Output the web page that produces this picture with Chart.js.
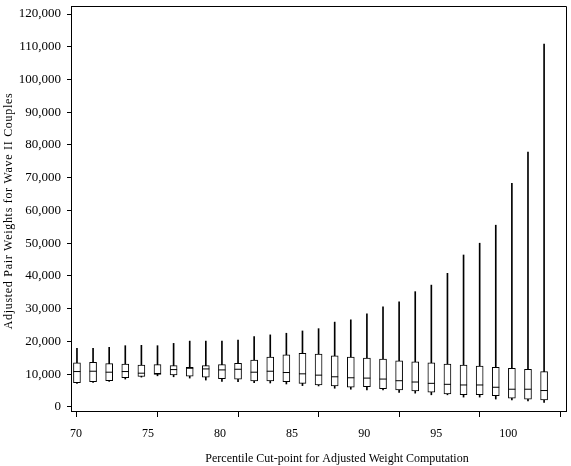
<!DOCTYPE html>
<html lang="en">
  <head>
    <meta charset="UTF-8" />
    <title>Adjusted Pair Weights for Wave II Couples</title>
    <script src="https://cdn.jsdelivr.net/npm/chart.js"></script>
    <style>
      body {
        margin: 0;
        background: #fff;
      }
    </style>
  </head>
  <body>
    <canvas id="boxChart" width="571" height="466"></canvas>

    <script>
      // percentile cut-points, one box each
      const percentiles = [
        70, 71, 72, 73, 74, 75, 76, 77, 78, 79, 80, 81, 82, 83, 84, 85, 86, 87,
        88, 89, 90, 91, 92, 93, 94, 95, 96, 97, 98, 99,
      ];
      const whiskerLow = [
        7200, 7500, 7800, 8500, 9100, 9500, 9200, 8800, 8200, 7800, 7700, 7400,
        7300, 7000, 6500, 6400, 5700, 5400, 5200, 5200, 4400, 4200, 3700, 3700,
        3000, 3000, 2400, 2100, 1800, 1400,
      ];
      const q1 = [
        7400, 7700, 8000, 8900, 9300, 9900, 9800, 9400, 9100, 8600, 8500, 7900,
        7900, 7700, 7200, 6700, 6400, 6000, 6200, 5600, 5200, 4900, 4500, 4000,
        3700, 3700, 3400, 2700, 2400, 2100,
      ];
      const median = [
        10800, 10900, 10600, 10800, 10300, 10200, 11400, 11800, 11600, 11300,
        11500, 10600, 10900, 10500, 10100, 9700, 9200, 8900, 8800, 8500, 8000,
        7600, 7200, 6900, 6700, 6700, 6000, 5400, 5400, 5000,
      ];
      const q3 = [
        13500, 13600, 13200, 13100, 12800, 12900, 12600, 12100, 12600, 12900,
        13300, 14300, 15200, 15900, 16400, 16100, 15600, 15200, 14900, 14600,
        14100, 13800, 13500, 13100, 12800, 12500, 12100, 11800, 11500, 10800,
      ];
      const whiskerHigh = [
        17900, 17900, 18200, 18700, 18800, 18700, 19400, 20100, 20100, 20100,
        20400, 21500, 22000, 22500, 23200, 23900, 25900, 26600, 28400, 30600,
        32100, 35200, 37200, 40800, 46400, 50000, 55500, 68300, 77800, 110800,
      ];
      const xTicks = [70, 75, 80, 85, 90, 95, 100];
      const yTicks = [
        0, 10000, 20000, 30000, 40000, 50000, 60000, 70000, 80000, 90000,
        100000, 110000, 120000,
      ];

      const xTitle = "Percentile Cut-point for Adjusted Weight Computation";
      const yTitle = "Adjusted Pair Weights for Wave II Couples";
      const fontFamily = "'Liberation Serif', 'Times New Roman', serif";

      const whiskerData = percentiles.map((p, i) => ({
        x: p,
        y: [whiskerLow[i], whiskerHigh[i]],
      }));
      const boxData = percentiles.map((p, i) => ({ x: p, y: [q1[i], q3[i]] }));
      const medianData = percentiles.map((p, i) => ({ x: p, y: median[i] }));

      const setTicks = (values) => (scale) => {
        scale.ticks = values.map((v) => ({ value: v }));
      };

      // frame on top/right and the two axis titles
      const framePlugin = {
        id: "frame",
        afterDraw(chart) {
          const { ctx, chartArea } = chart;
          ctx.save();
          ctx.strokeStyle = "#000";
          ctx.lineWidth = 1;
          ctx.beginPath();
          ctx.moveTo(chartArea.left, chartArea.top + 0.5);
          ctx.lineTo(chartArea.right + 0.5, chartArea.top + 0.5);
          ctx.lineTo(chartArea.right + 0.5, chartArea.bottom);
          ctx.stroke();

          ctx.fillStyle = "#000";
          ctx.font = "12px " + fontFamily;
          ctx.textAlign = "center";
          ctx.textBaseline = "middle";
          ctx.fillText(xTitle, 337, 459);

          ctx.translate(9, 211);
          ctx.rotate(-Math.PI / 2);
          ctx.letterSpacing = "0.7px";
          ctx.fillText(yTitle, 0, 0);
          ctx.restore();
        },
      };

      const config = {
        type: "bar",
        data: {
          datasets: [
            {
              label: "whiskers",
              data: whiskerData,
              backgroundColor: "#000",
              borderWidth: 0,
              barThickness: 1,
              grouped: false,
              order: 3,
            },
            {
              label: "boxes",
              data: boxData,
              backgroundColor: "#fff",
              borderColor: "#000",
              borderWidth: 1,
              borderSkipped: false,
              barThickness: 7,
              grouped: false,
              order: 2,
            },
            {
              type: "line",
              label: "median",
              data: medianData,
              showLine: false,
              pointStyle: "line",
              pointRadius: 3.5,
              borderColor: "#000",
              borderWidth: 1,
              order: 1,
            },
          ],
        },
        options: {
          responsive: false,
          animation: false,
          devicePixelRatio: 1,
          layout: { padding: { top: 0, right: 1, left: 0, bottom: 0 } },
          plugins: {
            legend: { display: false },
            tooltip: { enabled: false },
          },
          scales: {
            x: {
              type: "linear",
              position: "bottom",
              min: 69.63,
              max: 100.36,
              offset: false,
              weight: 0,
              afterBuildTicks: setTicks(xTicks),
              afterFit: (scale) => {
                scale.height = 6;
              },
              grid: {
                offset: false,
                drawOnChartArea: false,
                drawTicks: true,
                tickLength: 6,
                color: "#000",
              },
              border: { color: "#000", width: 1 },
              ticks: { display: false },
            },
            xl: {
              type: "linear",
              position: "bottom",
              min: 69.66,
              max: 104.0,
              offset: false,
              weight: 1,
              afterBuildTicks: setTicks(xTicks),
              afterFit: (scale) => {
                scale.height = 49;
              },
              grid: { display: false, drawTicks: false },
              border: { display: false },
              ticks: {
                padding: 10,
                color: "#000",
                font: { family: fontFamily, size: 12 },
                maxRotation: 0,
              },
            },
            y: {
              min: -1250,
              max: 122450,
              afterBuildTicks: setTicks(yTicks),
              afterFit: (scale) => {
                scale.width = 71;
                scale.paddingTop = 6;
                scale.paddingBottom = 0;
              },
              grid: {
                drawOnChartArea: false,
                drawTicks: true,
                tickLength: 4,
                color: "#000",
              },
              border: { color: "#000", width: 1 },
              ticks: {
                padding: 6,
                color: "#000",
                font: { family: fontFamily, size: 13 },
                callback: (v) => v.toLocaleString("en-US"),
              },
            },
          },
        },
        plugins: [framePlugin],
      };

      window.onload = function () {
        const ctx = document.getElementById("boxChart").getContext("2d");
        new Chart(ctx, config);
      };
    </script>
  </body>
</html>
